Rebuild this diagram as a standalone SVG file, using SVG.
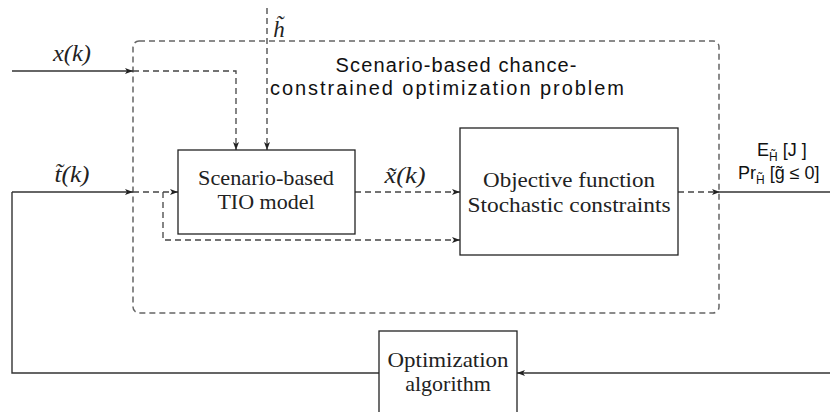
<svg xmlns="http://www.w3.org/2000/svg" width="830" height="412" viewBox="0 0 830 412">
<style>
.box{fill:#fff;stroke:#222;stroke-width:1.3}
.cm{font-family:"Liberation Serif","DejaVu Serif",serif;font-size:22px;fill:#222;text-anchor:middle}
.mi{font-family:"Liberation Serif","DejaVu Serif",serif;font-style:italic;font-size:23px;fill:#222;text-anchor:middle}
.sans{font-family:"Liberation Sans",Arial,sans-serif;fill:#111}
.solid{fill:none;stroke:#333;stroke-width:1.4}
.dash{fill:none;stroke:#444;stroke-width:1.3;stroke-dasharray:6,4}
.frame{fill:none;stroke:#666;stroke-width:1.5;stroke-dasharray:6,4}
</style>
<defs>
<marker id="ah" viewBox="0 0 8 6" refX="8" refY="3" markerWidth="8" markerHeight="6" markerUnits="userSpaceOnUse" orient="auto">
<path d="M0,0 L8,3 L0,6 L2,3 Z" fill="#222"/>
</marker>
</defs>
<rect width="830" height="412" fill="#fff"/>

<g id="frame">
<rect class="frame" x="133" y="41" width="586" height="272" rx="6" ry="6"/>
<text class="sans" font-size="20" text-anchor="middle" x="456" y="72" textLength="241" lengthAdjust="spacing">Scenario-based chance-</text>
<text class="sans" font-size="20" text-anchor="middle" x="447" y="95" textLength="354" lengthAdjust="spacing">constrained optimization problem</text>
</g>

<g id="connectors">
<path class="solid" d="M12,71 H133" marker-end="url(#ah)"/>
<path class="dash" d="M133,71 H236 V150" marker-end="url(#ah)"/>
<path class="dash" d="M267,8 V150" marker-end="url(#ah)"/>
<path class="solid" d="M12,192 H133" marker-end="url(#ah)"/>
<path class="dash" d="M133,192 H178" marker-end="url(#ah)"/>
<path class="dash" d="M163,192 V240 H460" marker-end="url(#ah)"/>
<path class="dash" d="M355,192 H460" marker-end="url(#ah)"/>
<path class="dash" d="M678,192 H720" marker-end="url(#ah)"/>
<path class="solid" d="M720,192 H830"/>
<path class="solid" d="M12,192 V373 H379"/>
<path class="solid" d="M830,373 H517" marker-end="url(#ah)"/>
<text class="mi" x="72" y="61" textLength="38" lengthAdjust="spacingAndGlyphs">x(k)</text>
<text class="mi" x="72" y="182" textLength="35" lengthAdjust="spacingAndGlyphs">t̃(k)</text>
<text class="mi" x="405" y="183" textLength="41" lengthAdjust="spacingAndGlyphs">x̃(k)</text>
<text class="mi" x="279" y="37">h̃</text>
<text class="sans" font-size="18" x="757" y="156">E<tspan font-size="12" dy="5">H̃</tspan><tspan dy="-5"> [J ]</tspan></text>
<text class="sans" font-size="18" x="738" y="179">Pr<tspan font-size="12" dy="5">H̃</tspan><tspan dy="-5"> [g̃ ≤  0]</tspan></text>
</g>

<g id="tio">
<rect class="box" x="178" y="150" width="177" height="84"/>
<text class="cm" x="266" y="185" textLength="136" lengthAdjust="spacingAndGlyphs">Scenario-based</text>
<text class="cm" x="266" y="209">TIO model</text>
</g>

<g id="objective">
<rect class="box" x="460" y="128" width="218" height="127"/>
<text class="cm" x="569" y="187" textLength="172" lengthAdjust="spacingAndGlyphs">Objective function</text>
<text class="cm" x="569" y="212" textLength="203" lengthAdjust="spacingAndGlyphs">Stochastic constraints</text>
</g>

<g id="optimizer">
<rect class="box" x="379" y="331" width="138" height="90"/>
<text class="cm" x="448" y="367" font-size="21" textLength="121" lengthAdjust="spacingAndGlyphs">Optimization</text>
<text class="cm" x="448" y="391" font-size="21">algorithm</text>
</g>
</svg>
